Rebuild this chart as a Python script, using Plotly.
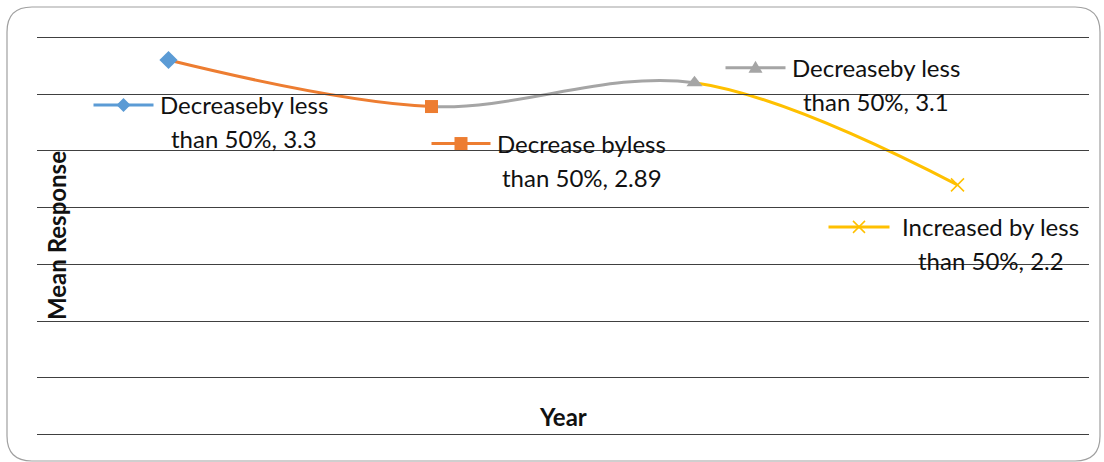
import plotly.graph_objects as go

# ---- data ----
points = [1, 2, 3, 4]
values = [3.3, 2.89, 3.1, 2.2]
label_heads = ["Decreaseby less", "Decrease byless", "Decreaseby less", "Increased by less"]
label_tails = ["than 50%", "than 50%", "than 50%", "than 50%"]
colors = ["#5B9BD5", "#ED7D31", "#A5A5A5", "#FFC000"]

# ---- layout constants ----
W, H = 1104, 462
ML, MR, MT, MB = 37, 15, 35, 25
X_RANGE = [0.5, 4.5]
Y_RANGE = [-0.02, 3.52]   # small pad so the 0 and 3.5 gridlines are kept
FONT = "Lato"
TXT = "#111111"


def frac(v):
    return (v - X_RANGE[0]) / (X_RANGE[1] - X_RANGE[0])


fig = go.Figure()

# Each connecting segment is the same smoothed curve through all points,
# clipped to its own x-span by a dedicated x-axis covering only that span.
for i in range(1, len(points)):
    ax_id = i + 1
    fig.add_trace(go.Scatter(
        x=points, y=values, mode="lines",
        line=dict(color=colors[i], width=3, shape="spline"),
        xaxis=f"x{ax_id}", yaxis="y", hoverinfo="skip", showlegend=False,
    ))
    fig.layout[f"xaxis{ax_id}"] = dict(
        domain=[frac(points[i - 1]), frac(points[i])],
        range=[points[i - 1], points[i]],
        visible=False, anchor="y", fixedrange=True,
    )

# Point markers on a full-width axis drawn above the segments
marker_styles = [
    dict(symbol="diamond", size=14, color=colors[0]),
    dict(symbol="square", size=13, color=colors[1]),
    dict(symbol="triangle-up", size=14, color=colors[2]),
    dict(symbol="x-thin-open", size=13, color=colors[3], line=dict(color=colors[3], width=1.5)),
]
m_axis = len(points) + 1
for i in range(len(points)):
    fig.add_trace(go.Scatter(
        x=[points[i]], y=[values[i]], mode="markers",
        marker=marker_styles[i], cliponaxis=False,
        xaxis=f"x{m_axis}", yaxis="y", hoverinfo="skip", showlegend=False,
    ))
fig.layout[f"xaxis{m_axis}"] = dict(domain=[0, 1], range=X_RANGE, visible=False,
                                   anchor="y", fixedrange=True)

# ---- data labels with legend keys (pixel offsets from each point) ----
key_dx = [(-75, -15), (0, 59), (31, 91), (-129, -68)]
key_dy = [45, 37, -15, 42]
text_dx = [75, 150, 181, 33]
line_gap = 34

shapes = []
annotations = []
for i in range(len(points)):
    x0, x1 = key_dx[i]
    ky = -key_dy[i]
    cx = (x0 + x1) / 2
    shapes.append(dict(
        type="line", xref="x", yref="y", xsizemode="pixel", ysizemode="pixel",
        xanchor=points[i], yanchor=values[i], x0=x0, x1=x1, y0=ky, y1=ky,
        line=dict(color=colors[i], width=3), layer="above",
    ))
    if i == 0:
        p = f"M{cx},{ky+7} L{cx+7},{ky} L{cx},{ky-7} L{cx-7},{ky} Z"
        mk = dict(path=p, fillcolor=colors[i], line=dict(width=0))
    elif i == 1:
        p = f"M{cx-6.5},{ky-6.5} L{cx+6.5},{ky-6.5} L{cx+6.5},{ky+6.5} L{cx-6.5},{ky+6.5} Z"
        mk = dict(path=p, fillcolor=colors[i], line=dict(width=0))
    elif i == 2:
        p = f"M{cx},{ky+7} L{cx+7},{ky-5} L{cx-7},{ky-5} Z"
        mk = dict(path=p, fillcolor=colors[i], line=dict(width=0))
    else:
        p = f"M{cx-6},{ky-6} L{cx+6},{ky+6} M{cx-6},{ky+6} L{cx+6},{ky-6}"
        mk = dict(path=p, line=dict(color=colors[i], width=1.5))
    shapes.append(dict(type="path", xref="x", yref="y", xsizemode="pixel",
                       ysizemode="pixel", xanchor=points[i], yanchor=values[i],
                       layer="above", **mk))

    lines = [label_heads[i], f"{label_tails[i]}, {values[i]}"]
    for j, t in enumerate(lines):
        annotations.append(dict(
            x=points[i], y=values[i], xref="x", yref="y", text=t, showarrow=False,
            xanchor="center", yanchor="middle",
            xshift=text_dx[i], yshift=-(key_dy[i] + j * line_gap),
            font=dict(family=FONT, size=24, color=TXT),
        ))

# axis titles
annotations.append(dict(
    x=0, y=0.5, xref="paper", yref="paper", text="<b>Mean Response</b>",
    textangle=-90, showarrow=False, xanchor="center", yanchor="middle", xshift=19,
    font=dict(family=FONT, size=24, color=TXT),
))
annotations.append(dict(
    x=0.5, y=0.05, xref="paper", yref="paper", text="<b>Year</b>",
    showarrow=False, xanchor="center", yanchor="middle",
    font=dict(family=FONT, size=24, color=TXT),
))

# rounded chart-area border (pixel path relative to plot's bottom-left corner)
Lb, Rb, Tb, Bb, r = 7 - ML, (W - 4) - ML, (H - MB) - 7, (H - MB) - (H - 1), 25
border = (f"M{Lb+r},{Tb} L{Rb-r},{Tb} Q{Rb},{Tb} {Rb},{Tb-r} L{Rb},{Bb+r} "
          f"Q{Rb},{Bb} {Rb-r},{Bb} L{Lb+r},{Bb} Q{Lb},{Bb} {Lb},{Bb+r} "
          f"L{Lb},{Tb-r} Q{Lb},{Tb} {Lb+r},{Tb} Z")
shapes.append(dict(type="path", xref="paper", yref="paper", xsizemode="pixel",
                   ysizemode="pixel", xanchor=0, yanchor=0, path=border,
                   line=dict(color="#A0A0A0", width=1.2), layer="below"))

fig.update_layout(
    width=W, height=H, margin=dict(l=ML, r=MR, t=MT, b=MB),
    paper_bgcolor="white", plot_bgcolor="rgba(0,0,0,0)",
    showlegend=False, shapes=shapes, annotations=annotations,
    xaxis=dict(range=X_RANGE, showticklabels=False, ticks="", showgrid=False,
               zeroline=False, showline=False, fixedrange=True),
    yaxis=dict(range=Y_RANGE, dtick=0.5, tick0=0, showticklabels=False, ticks="",
               showgrid=True, gridcolor="#404040", gridwidth=1.2,
               zeroline=False, showline=False, fixedrange=True),
)

fig.write_html("out.html")
